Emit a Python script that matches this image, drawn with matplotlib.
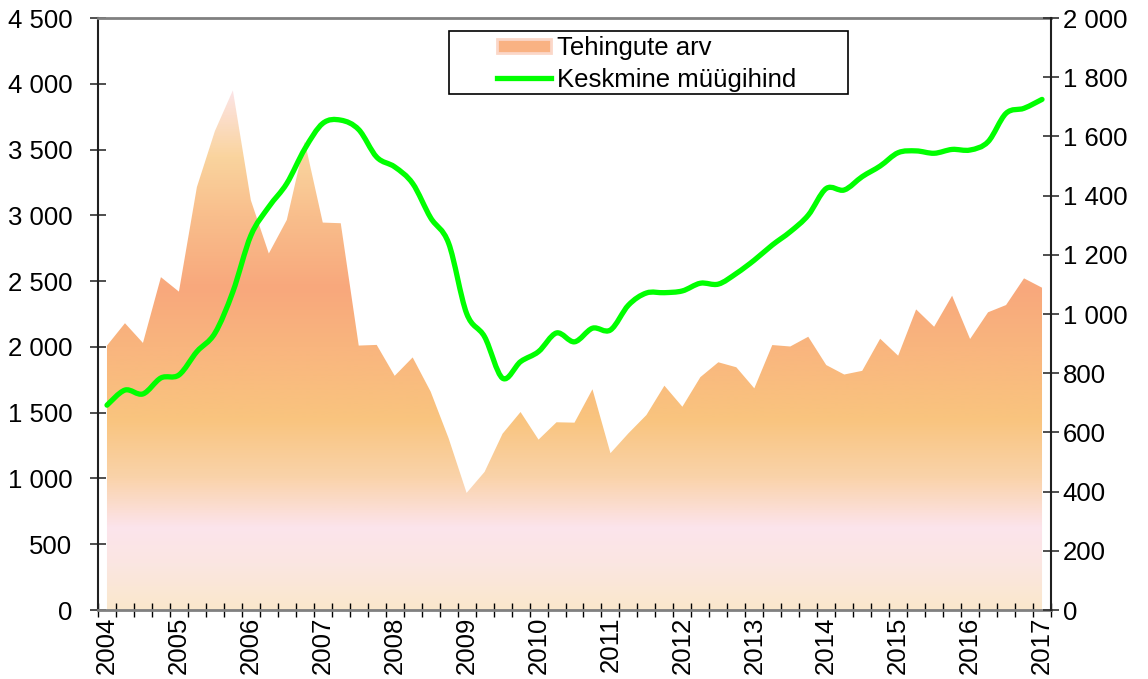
import numpy as np
import matplotlib
matplotlib.use("Agg")
import matplotlib.pyplot as plt
from matplotlib.path import Path
from matplotlib.patches import PathPatch, Patch, Rectangle
from matplotlib.lines import Line2D
from matplotlib.colors import LinearSegmentedColormap
from matplotlib.ticker import FuncFormatter

plt.rcParams['font.family'] = ['Liberation Sans', 'DejaVu Sans']

# quarterly data, 2004 Q1 .. 2017 Q1
years = list(range(2004, 2018))
tehingud = [2010, 2180, 2030, 2530, 2420, 3215, 3640, 3950, 3115,
            2710, 2965, 3560, 2945, 2940, 2010, 2015, 1780, 1920,
            1660, 1305, 890, 1050, 1340, 1505, 1295, 1427, 1424,
            1678, 1192, 1343, 1482, 1705, 1545, 1770, 1883, 1845,
            1685, 2014, 2003, 2077, 1862, 1790, 1818, 2062, 1933,
            2285, 2153, 2389, 2060, 2263, 2318, 2521, 2450]
hind = [692, 743, 730, 784, 794, 873, 935, 1075, 1265,
        1362, 1441, 1558, 1644, 1655, 1623, 1530, 1497, 1441,
        1325, 1239, 1002, 923, 783, 839, 873, 936, 906,
        952, 946, 1030, 1071, 1072, 1078, 1104, 1101, 1137,
        1182, 1233, 1278, 1334, 1424, 1419, 1464, 1500, 1545,
        1551, 1543, 1556, 1554, 1582, 1678, 1695, 1725]

# gradient stops for the area fill (left-axis value, colour)
grad_stops = [(0, '#FAE8CC'), (350, '#FBE6E2'), (620, '#FCE4EC'),
              (1000, '#FAD3AA'), (1450, '#F9C47E'), (2000, '#F9B57E'),
              (2450, '#F8A87C'), (3000, '#F9BE8C'), (3450, '#FAD49E'),
              (3950, '#FCE4E6'), (4500, '#FCE4E6')]

x = np.arange(len(tehingud))
W, H = 1148, 679
fig = plt.figure(figsize=(W / 100, H / 100), dpi=100)
ax = fig.add_axes([98 / W, (H - 610) / H, (1051 - 98) / W, (610 - 18) / H])
ax2 = ax.twinx()

# area with vertical gradient
poly = ax.fill_between(x, tehingud, 0, facecolor='none', edgecolor='none')
cmap = LinearSegmentedColormap.from_list(
    'grad', [(v / 4500, c) for v, c in grad_stops])
grad = np.linspace(0, 1, 512).reshape(-1, 1)
im = ax.imshow(grad, cmap=cmap, origin='lower', aspect='auto',
               extent=[-0.5, len(x) - 0.5, 0, 4500], interpolation='bilinear')
im.set_clip_path(poly.get_paths()[0], transform=ax.transData)

# smoothed price line (Bezier through the points)
pts = np.column_stack([x, hind]).astype(float)
verts = [tuple(pts[0])]
codes = [Path.MOVETO]
for i in range(len(pts) - 1):
    p0 = pts[max(i - 1, 0)]
    p1 = pts[i]
    p2 = pts[i + 1]
    p3 = pts[min(i + 2, len(pts) - 1)]
    c1 = p1 + (p2 - p0) / 6.0
    c2 = p2 - (p3 - p1) / 6.0
    verts += [tuple(c1), tuple(c2), tuple(p2)]
    codes += [Path.CURVE4] * 3
ax2.add_patch(PathPatch(Path(verts, codes), facecolor='none',
                        edgecolor='#00FF00', lw=3.8, capstyle='round',
                        joinstyle='round'))

fs = 18.5
sp = FuncFormatter(lambda v, p: f"{v:,.0f}".replace(",", " "))

ax.set_xlim(-0.5, len(x) - 0.5)
ax.set_ylim(0, 4500)
ax2.set_ylim(0, 2000)
ax.set_yticks(np.arange(0, 4501, 500))
ax2.set_yticks(np.arange(0, 2001, 200))
ax.yaxis.set_major_formatter(sp)
ax2.yaxis.set_major_formatter(sp)

ax.set_xticks(np.arange(0, len(x), 4))
ax.set_xticklabels([str(y) for y in years], rotation=90, fontsize=fs)
ax.set_xticks(np.arange(-0.5, len(x), 1), minor=True)
ax.tick_params(axis='x', which='major', length=0, pad=5)
ax.tick_params(axis='x', which='minor', direction='inout', length=10,
               width=1, color='black')
ax.tick_params(axis='y', direction='inout', length=11, width=1.2,
               pad=13, labelsize=fs, color='#303030')
ax2.tick_params(axis='y', direction='inout', length=11, width=1.2,
                pad=3, labelsize=fs, color='#303030')

for s in ['top', 'bottom']:
    ax.spines[s].set_color('#808080')
    ax.spines[s].set_linewidth(2)
ax.spines['left'].set_color('#202020')
ax.spines['left'].set_linewidth(1.5)
ax.spines['right'].set_visible(False)
for s in ['top', 'bottom', 'left']:
    ax2.spines[s].set_visible(False)
ax2.spines['right'].set_color('#202020')
ax2.spines['right'].set_linewidth(1.5)

# legend box + legend
fig.patches.append(Rectangle((449 / W, 1 - 94 / H), 399 / W, 63 / H,
                             transform=fig.transFigure, facecolor='white',
                             edgecolor='black', lw=1.2, zorder=1))
handles = [Patch(facecolor='#F9B283', edgecolor='#FBD7C8', lw=2),
           Line2D([], [], color='#00FF00', lw=3.8)]
fig.legend(handles, ['Tehingute arv', 'Keskmine müügihind'],
           loc='upper left', bbox_to_anchor=(497 / W, 1 - 36 / H),
           bbox_transform=fig.transFigure, frameon=False, fontsize=fs,
           borderpad=0, borderaxespad=0, handlelength=2.1,
           handleheight=0.5, handletextpad=0.25, labelspacing=0.3)

fig.savefig('out.png', dpi=100)
